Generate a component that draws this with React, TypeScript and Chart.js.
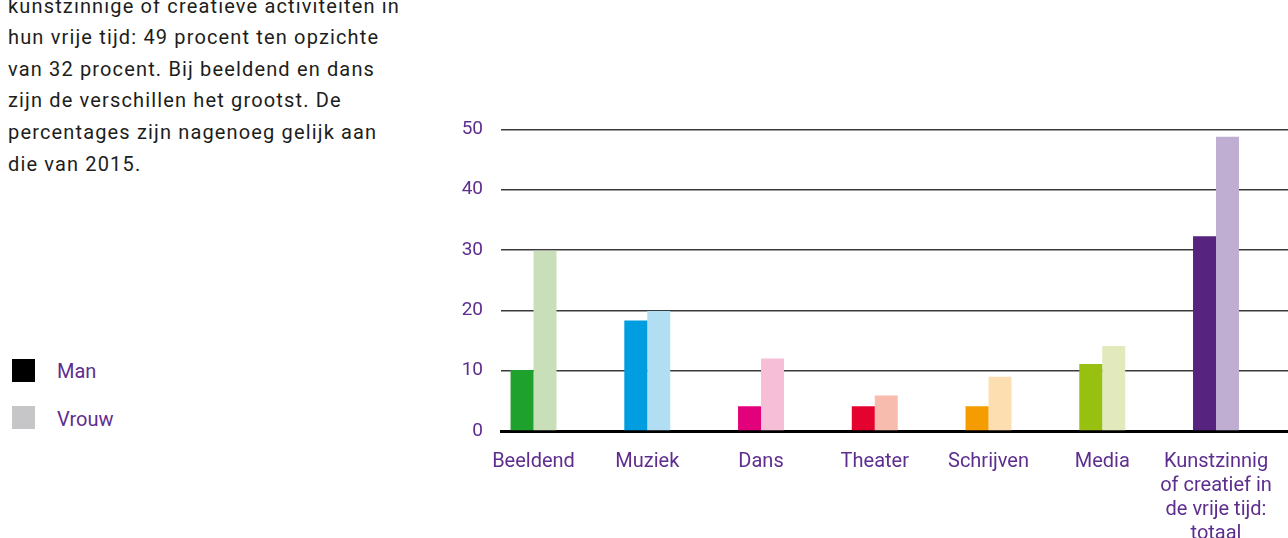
import React, { useEffect, useRef } from "react";
import { Chart, registerables } from "chart.js";

Chart.register(...registerables);

const categories: (string | string[])[] = [
  "Beeldend",
  "Muziek",
  "Dans",
  "Theater",
  "Schrijven",
  "Media",
  ["Kunstzinnig", "of creatief in", "de vrije tijd:", "totaal"],
];
const manValues = [10.1, 18.3, 4.1, 4.1, 4.1, 11.1, 32.3];
const vrouwValues = [29.9, 19.9, 12, 5.9, 9, 14.1, 48.8];
const yTicks = [0, 10, 20, 30, 40, 50];

const manColors = ["#1fa12e", "#009ee0", "#e3007b", "#e4032f", "#f59d00", "#98c010", "#56237e"];
const vrouwColors = ["#c8dfba", "#b2def4", "#f6bfd7", "#f8bcae", "#fddeb1", "#e1e9bd", "#bfaed1"];

const paragraph = [
  "kunstzinnige of creatieve activiteiten in",
  "hun vrije tijd: 49 procent ten opzichte",
  "van 32 procent. Bij beeldend en dans",
  "zijn de verschillen het grootst. De",
  "percentages zijn nagenoeg gelijk aan",
  "die van 2015.",
];

const PURPLE = "#5e2e8f";
const FONT = "Roboto";

export default function App() {
  const canvasRef = useRef<HTMLCanvasElement | null>(null);

  useEffect(() => {
    if (!canvasRef.current) return;
    const chart = new Chart(canvasRef.current, {
      type: "bar",
      data: {
        datasets: [
          {
            label: "Man",
            data: manValues.map((v, i) => ({ x: i, y: v })),
            backgroundColor: manColors,
            borderWidth: 0,
            categoryPercentage: 0.404,
            barPercentage: 1,
          },
          {
            label: "Vrouw",
            data: vrouwValues.map((v, i) => ({ x: i, y: v })),
            backgroundColor: vrouwColors,
            borderWidth: 0,
            categoryPercentage: 0.404,
            barPercentage: 1,
          },
        ],
      },
      options: {
        animation: false,
        responsive: false,
        maintainAspectRatio: false,
        layout: { padding: { top: 29, right: 0, bottom: 0, left: 0 } },
        plugins: {
          legend: { display: false },
          tooltip: { enabled: false },
          title: { display: false },
        },
        scales: {
          x: {
            type: "linear",
            offset: false,
            min: -0.286,
            max: 6.633,
            grid: { display: false, drawTicks: false, offset: false },
            border: { display: true, color: "#000000", width: 3 },
            afterBuildTicks: (scale: any) => {
              scale.ticks = categories.map((_, i) => ({ value: i }));
            },
            afterFit: (scale: any) => {
              scale.height = 107;
              scale.paddingLeft = 0;
              scale.paddingRight = 0;
            },
            ticks: {
              autoSkip: false,
              maxRotation: 0,
              minRotation: 0,
              padding: 19,
              color: PURPLE,
              font: { family: FONT, size: 20, lineHeight: 1.2 },
              callback: (value: any) => categories[Math.round(Number(value))] as any,
            },
          },
          y: {
            min: 0,
            max: 50,
            afterBuildTicks: (scale: any) => {
              scale.ticks = yTicks.map((v) => ({ value: v }));
            },
            afterFit: (scale: any) => {
              scale.width = 61;
            },
            grid: {
              drawTicks: false,
              color: (ctx: any) => (ctx.tick && ctx.tick.value === 0 ? "rgba(0,0,0,0)" : "#3a3a3a"),
              lineWidth: 1.5,
            },
            border: { display: false },
            ticks: {
              padding: 18,
              color: PURPLE,
              font: { family: FONT, size: 19 },
            },
          },
        },
      },
    });
    return () => chart.destroy();
  }, []);

  return (
    <div
      style={{
        position: "absolute",
        left: 0,
        top: 0,
        width: 1288,
        height: 538,
        overflow: "hidden",
        background: "#ffffff",
        fontFamily: FONT,
      }}
    >
      <div
        style={{
          position: "absolute",
          left: 8,
          top: -9.3,
          fontSize: 20,
          lineHeight: "31.6px",
          letterSpacing: "1.15px",
          color: "#1d1d1b",
          whiteSpace: "nowrap",
        }}
      >
        {paragraph.map((line, i) => (
          <div key={i}>{line}</div>
        ))}
      </div>

      <div style={{ position: "absolute", left: 12, top: 359, width: 23, height: 23, background: "#000000" }} />
      <div
        style={{
          position: "absolute",
          left: 57,
          top: 360.5,
          fontSize: 20,
          lineHeight: "20px",
          color: PURPLE,
          whiteSpace: "nowrap",
        }}
      >
        Man
      </div>
      <div style={{ position: "absolute", left: 12, top: 406, width: 23, height: 23, background: "#c6c6c8" }} />
      <div
        style={{
          position: "absolute",
          left: 57,
          top: 408.5,
          fontSize: 20,
          lineHeight: "20px",
          color: PURPLE,
          whiteSpace: "nowrap",
        }}
      >
        Vrouw
      </div>

      <canvas
        ref={canvasRef}
        width={848}
        height={438}
        style={{ position: "absolute", left: 440, top: 100, width: 848, height: 438 }}
      />
    </div>
  );
}
